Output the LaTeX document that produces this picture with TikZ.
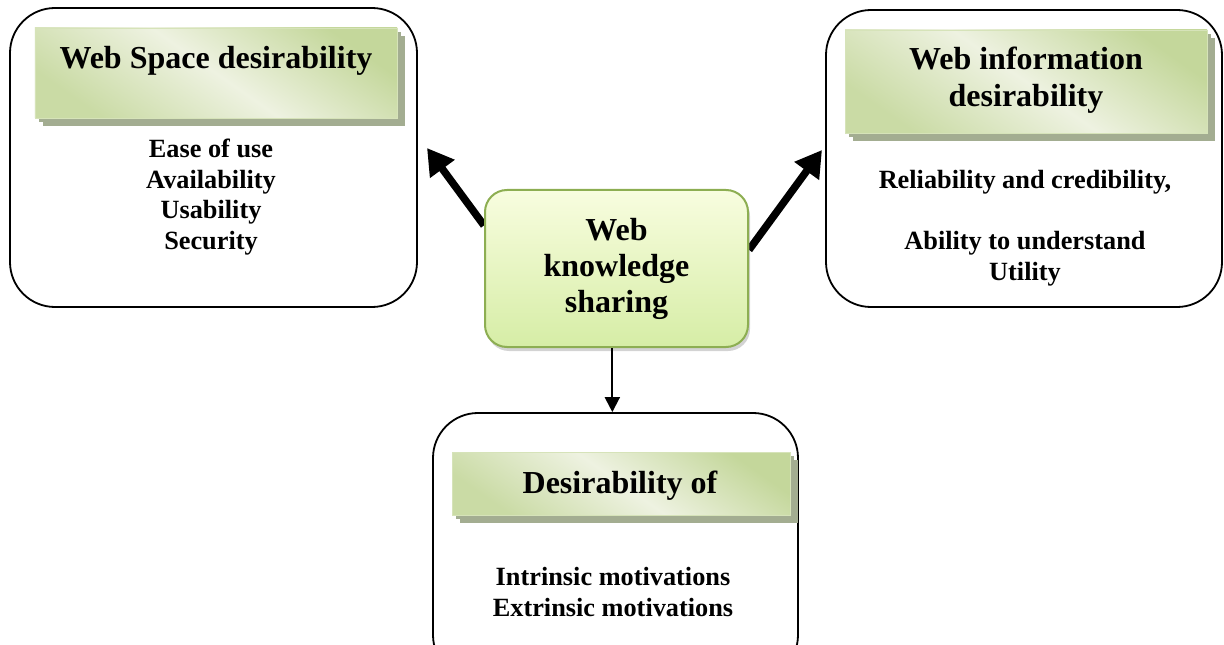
\documentclass[tikz,border=0pt]{standalone}
\usepackage{fontspec}
\setmainfont{Liberation Serif}
\usetikzlibrary{arrows.meta,shadows,backgrounds}

\definecolor{hdgreen}{HTML}{C4D79B}
\definecolor{hdlight}{HTML}{EEF2E1}
\definecolor{hdshadow}{HTML}{A3AD91}
\definecolor{kstop}{HTML}{F8FDDF}
\definecolor{ksbot}{HTML}{D6EDA6}
\definecolor{ksedge}{HTML}{8DAE52}

\tikzset{
  outerbox/.style={draw=black, line width=1.8bp, rounded corners=45bp, fill=white},
  header/.style={draw=hdgreen!70!white, line width=0.8bp, top color=hdgreen, bottom color=hdgreen!85!hdlight,
    middle color=hdlight, shading angle=-35,
    double copy shadow={shadow xshift=4bp, shadow yshift=-4bp, fill=hdshadow, draw=none, opacity=1}},
  titletext/.style={font=\bfseries\fontsize{32bp}{37bp}\selectfont, align=center, inner sep=0pt},
  bodytext/.style={font=\bfseries\fontsize{26.3bp}{30.5bp}\selectfont, align=center, inner sep=0pt},
  corebox/.style={draw=ksedge, line width=2bp, rounded corners=22bp, top color=kstop, bottom color=ksbot,
    drop shadow={shadow xshift=2bp, shadow yshift=-4bp, opacity=0.35},
    font=\bfseries\fontsize{32bp}{36bp}\selectfont, align=center},
  fatarrow/.style={line width=7.5bp, -{Triangle[length=26bp, width=29bp]}},
  thinarrow/.style={line width=2bp, -{Triangle[length=15bp, width=15bp]}}
}

\begin{document}
\begin{tikzpicture}[x=1bp, y=-1bp]
  \useasboundingbox (0,0) rectangle (1224,645);
  \clip (0,0) rectangle (1224,645);

  % outer rounded boxes
  \node[outerbox, minimum width=407bp, minimum height=299bp] (space) at (213.5,157.5) {};
  \node[outerbox, minimum width=396bp, minimum height=297bp] (info) at (1024,158.5) {};
  \node[outerbox, minimum width=365bp, minimum height=267bp] (motiv) at (615.5,546.5) {};

  % green header bars
  \node[header, minimum width=362bp, minimum height=90bp] (spacehd) at (216,73) {};
  \node[header, minimum width=362bp, minimum height=103bp] (infohd) at (1026,81.5) {};
  \node[header, minimum width=338bp, minimum height=63bp] (motivhd) at (621,483.5) {};

  % header titles
  \node[titletext, anchor=base] (spacettl) at (216,69) {Web Space desirability};
  \node[titletext] (infottl) at (1026,80) {Web information\\desirability};
  \node[titletext, anchor=base] (motivttl) at (620,493) {Desirability of};

  % item lists
  \node[bodytext] (spacelist) at (211,197) {Ease of use\\Availability\\Usability\\Security};
  \node[bodytext] (infolist) at (1025,228) {Reliability and credibility,\\~\\Ability to understand\\Utility};
  \node[bodytext] (motivlist) at (613,592) {Intrinsic motivations\\Extrinsic motivations};

  % tips of the two fat arrows
  \coordinate (ltip) at (427,148);
  \coordinate (rtip) at (822,150);

  % central concept box
  \node[corebox, minimum width=263bp, minimum height=157bp] (ks) at (616.5,268.5) {Web\\knowledge\\sharing};

  % connectors
  \begin{scope}[on background layer]
    \draw[fatarrow] (ks.162) -- (ltip);
    \draw[fatarrow] (ks.8) -- (rtip);
  \end{scope}
  \draw[thinarrow] (ks.-93.3) -- (ks.-93.3 |- motiv.north);
\end{tikzpicture}
\end{document}
